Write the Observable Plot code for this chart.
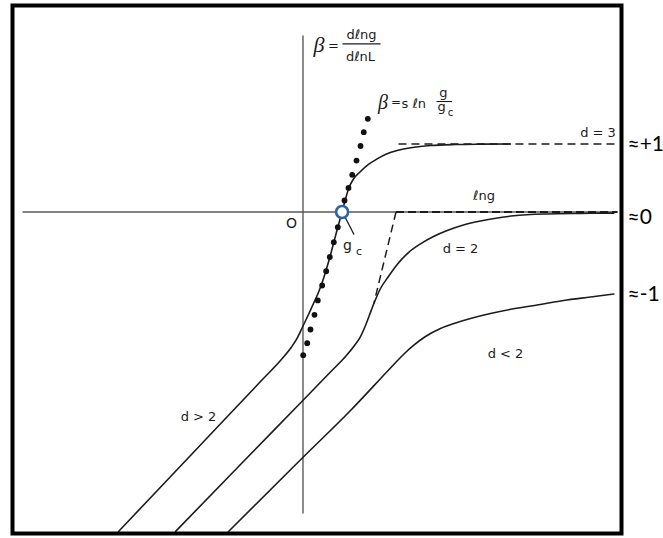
<!DOCTYPE html>
<html>
<head>
<meta charset="utf-8">
<script src="https://cdn.jsdelivr.net/npm/d3@7"></script>
<script src="https://cdn.jsdelivr.net/npm/@observablehq/plot@0.6"></script>
<style>
  html, body { margin: 0; padding: 0; background: #fff; }
  #chart svg { display: block; background: #fff; }
</style>
</head>
<body>
<div id="chart"></div>
<script>
// Scaling function β(g) = d ln g / d ln L versus ln g, for d > 2, d = 2 and d < 2.

// d > 2 (merges into the β → +1 plateau for d = 3)
const lnG_dGt2 = [-2.713,-1.654,-0.596,-0.331,-0.169,-0.081,-0.007,0.081,0.154,0.221,0.282,0.338,0.390,0.456,0.515,0.574,0.625,0.674,0.743,0.846,0.963,1.091,1.228,1.385,1.610,1.875,2.243,2.610,3.051];
const beta_dGt2 = [-4.699,-3.581,-2.463,-2.184,-1.985,-1.846,-1.691,-1.507,-1.346,-1.199,-1.037,-0.860,-0.684,-0.434,-0.213,0,0.191,0.353,0.485,0.596,0.699,0.782,0.853,0.904,0.949,0.978,0.993,0.998,1.0];

// d = 2 (tends to 0 from below)
const lnG_d2 = [-1.875,-0.919,0.012,0.404,0.625,0.757,0.846,0.919,0.978,1.041,1.140,1.257,1.385,1.551,1.728,1.919,2.121,2.360,2.610,2.860,3.100,3.591,4.081,4.571];
const beta_d2 = [-4.699,-3.713,-2.757,-2.353,-2.125,-1.963,-1.831,-1.669,-1.515,-1.350,-1.125,-0.949,-0.772,-0.596,-0.468,-0.360,-0.272,-0.191,-0.132,-0.088,-0.056,-0.029,-0.021,-0.016];

// d < 2 (tends to about -1)
const lnG_dLt2 = [-1.096,0.012,0.699,1.287,1.463,1.625,1.801,2.022,2.243,2.463,2.757,3.096,3.493,3.831,4.228,4.571];
const beta_dLt2 = [-4.699,-3.596,-2.919,-2.294,-2.110,-1.963,-1.831,-1.713,-1.632,-1.566,-1.493,-1.424,-1.360,-1.301,-1.250,-1.206];

// β = s ln(g/gc) near the critical point
const lnG_crit = [0.003,0.062,0.110,0.169,0.218,0.282,0.341,0.394,0.453,0.512,0.566,0.610,0.669,0.724,0.787,0.846,0.894,0.953];
const beta_crit = [-2.106,-1.929,-1.728,-1.512,-1.301,-1.081,-0.871,-0.662,-0.444,-0.224,-0.018,0.169,0.354,0.547,0.757,0.971,1.174,1.371];

// critical coupling gc (β = 0)
const lnGc = 0.575;

// asymptotes
const plateauD3 = {x1: 1.404, x2: 4.625, beta: 1};
const plateauLnG = {x1: 1.368, x2: 4.625, beta: 0};
const d2Tangent = {x1: 1.368, b1: 0, x2: 1.041, b2: -1.35};

// axes extent
const axisLnG = [-4.125, 4.625];
const axisBeta = [-4.434, 2.596];

// curve labels
const curveLabels = [
  {x: 4.338, b: 1.169, text: "d = 3"},
  {x: 2.316, b: -0.537, text: "d = 2"},
  {x: 2.978, b: -2.081, text: "d < 2"},
  {x: -1.537, b: -3.007, text: "d > 2"},
  {x: 2.662, b: 0.235, text: "ℓng"}
];

// limiting values written outside the frame
const limitLabels = [
  {b: 1.0, text: "≈+1"},
  {b: -0.07, text: "≈0"},
  {b: beta_dLt2[beta_dLt2.length - 1], text: "≈-1"}
];
const limitX = 4.772;

const zip = (xs, bs) => xs.map((x, i) => ({x, b: bs[i]}));

const ink = "#1c1c1c";
const sans = "'DejaVu Sans', 'Liberation Sans', sans-serif";
const serif = "'Liberation Serif', 'DejaVu Serif', serif";

const chart = Plot.plot({
  width: 663,
  height: 538,
  marginLeft: 12,
  marginRight: 42,
  marginTop: 5,
  marginBottom: 5,
  x: {domain: [-4.272, 4.684], axis: null},
  y: {domain: [-4.728, 3.037], axis: null},
  style: {fontFamily: sans, background: "#fff"},
  marks: [
    // axes through the origin
    Plot.link([0], {x1: axisLnG[0], x2: axisLnG[1], y1: 0, y2: 0, stroke: "#5a5a5a", strokeWidth: 1.4}),
    Plot.link([0], {x1: 0, x2: 0, y1: axisBeta[0], y2: axisBeta[1], stroke: "#5a5a5a", strokeWidth: 1.4}),

    // dashed asymptotes
    Plot.link([plateauD3], {x1: "x1", x2: "x2", y1: "beta", y2: "beta", stroke: ink, strokeWidth: 1.5, strokeDasharray: "8,5"}),
    Plot.link([plateauLnG], {x1: "x1", x2: "x2", y1: "beta", y2: "beta", stroke: ink, strokeWidth: 1.8, strokeDasharray: "8,4"}),
    Plot.link([d2Tangent], {x1: "x1", y1: "b1", x2: "x2", y2: "b2", stroke: ink, strokeWidth: 1.5, strokeDasharray: "8,5"}),

    // β(g) curves
    Plot.line(zip(lnG_dGt2, beta_dGt2), {x: "x", y: "b", curve: "monotone-x", stroke: ink, strokeWidth: 1.6}),
    Plot.line(zip(lnG_d2, beta_d2), {x: "x", y: "b", curve: "monotone-x", stroke: ink, strokeWidth: 1.6}),
    Plot.line(zip(lnG_dLt2, beta_dLt2), {x: "x", y: "b", curve: "monotone-x", stroke: ink, strokeWidth: 1.6}),

    // β = s ln(g/gc)
    Plot.dot(zip(lnG_crit, beta_crit), {x: "x", y: "b", r: 2.9, fill: "#111", stroke: "none"}),

    // gc marker and its leader
    Plot.link([0], {x1: 0.618, y1: -0.074, x2: 0.750, y2: -0.331, stroke: ink, strokeWidth: 1.3}),
    Plot.dot([{x: lnGc, b: 0}], {x: "x", y: "b", r: 6, fill: "#fff", stroke: "#2e62a8", strokeWidth: 2.6}),
    Plot.text([0], {x: 0.654, y: -0.5, text: ["g"], fontSize: 14, fill: ink}),
    Plot.text([0], {x: 0.824, y: -0.574, text: ["c"], fontSize: 11, fill: ink}),

    // origin
    Plot.text([0], {x: -0.169, y: -0.162, text: ["O"], fontSize: 14, fill: ink}),

    // curve labels
    Plot.text(curveLabels, {x: "x", y: "b", text: "text", fontSize: 13, fill: ink}),

    // β = d ln g / d ln L
    Plot.text([0], {x: 0.235, y: 2.454, text: ["β"], fontSize: 22, fontStyle: "italic", fontFamily: serif, fill: ink}),
    Plot.text([0], {x: 0.449, y: 2.449, text: ["="], fontSize: 13, fill: ink}),
    Plot.text([0], {x: 0.860, y: 2.610, text: ["dℓng"], fontSize: 13, fill: ink}),
    Plot.link([0], {x1: 0.581, x2: 1.140, y1: 2.474, y2: 2.474, stroke: ink, strokeWidth: 1.2}),
    Plot.text([0], {x: 0.846, y: 2.287, text: ["dℓnL"], fontSize: 13, fill: ink}),

    // β = s ln g/gc
    Plot.text([0], {x: 1.176, y: 1.616, text: ["β"], fontSize: 20, fontStyle: "italic", fontFamily: serif, fill: ink}),
    Plot.text([0], {x: 1.368, y: 1.61, text: ["="], fontSize: 12, fill: ink}),
    Plot.text([0], {x: 1.449, y: 1.584, text: ["s ℓn"], fontSize: 13, textAnchor: "start", fill: ink}),
    Plot.text([0], {x: 2.066, y: 1.746, text: ["g"], fontSize: 13, fill: ink}),
    Plot.link([0], {x1: 1.963, x2: 2.194, y1: 1.625, y2: 1.625, stroke: ink, strokeWidth: 1.1}),
    Plot.text([0], {x: 2.037, y: 1.554, text: ["g"], fontSize: 13, fill: ink}),
    Plot.text([0], {x: 2.169, y: 1.456, text: ["c"], fontSize: 10, fill: ink}),

    // limiting values
    Plot.text(limitLabels, {x: limitX, y: "b", text: "text", textAnchor: "start", fontSize: 21, fontFamily: "Lato, 'Open Sans', sans-serif", fill: "#000"}),

    // outer box
    Plot.frame({stroke: "#000", strokeWidth: 4})
  ]
});

document.getElementById("chart").append(chart);
</script>
</body>
</html>
